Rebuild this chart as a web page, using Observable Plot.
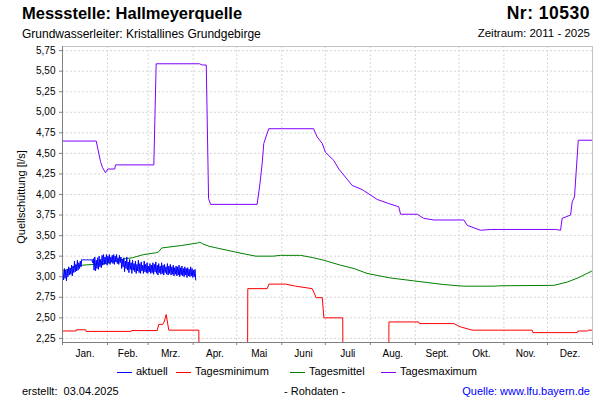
<!DOCTYPE html>
<html><head><meta charset="utf-8">
<script src="https://cdn.jsdelivr.net/npm/d3@7"></script>
<script src="https://cdn.jsdelivr.net/npm/@observablehq/plot@0.6"></script>
<style>
body{margin:0;background:#fff;font-family:"Liberation Sans",Arial,sans-serif;color:#000;}
#wrap{position:relative;width:600px;height:400px;overflow:hidden;background:#fff;}
.t{position:absolute;white-space:pre;line-height:1;}
.sw{position:absolute;height:1px;width:15px;}
#chart{position:absolute;left:0;top:0;}
</style></head><body>
<div id="wrap">
<div class="t" style="left:22px;top:5px;font-size:16.5px;font-weight:bold">Messstelle: Hallmeyerquelle</div>
<div class="t" style="right:10px;top:5px;font-size:17.5px;font-weight:bold;letter-spacing:0.5px">Nr: 10530</div>
<div class="t" style="left:22px;top:28px;font-size:12px">Grundwasserleiter: Kristallines Grundgebirge</div>
<div class="t" style="right:10px;top:28px;font-size:11.5px">Zeitraum: 2011 - 2025</div>
<div class="t" style="left:21px;top:197px;font-size:11px;transform:translate(-50%,-50%) rotate(-90deg);">Quellschüttung [l/s]</div>
<div id="chart"></div>
<div id="legend"></div>
<div class="t" style="left:22px;top:386px;font-size:11px">erstellt:  03.04.2025</div>
<div class="t" style="left:284px;top:386px;font-size:11px">- Rohdaten -</div>
<div class="t" style="right:10px;top:386px;font-size:11px;color:#0000ff">Quelle: www.lfu.bayern.de</div>
</div>
<script>
// Monatsgrenzen (Tag im Jahr) und Beschriftungen
const monatsStart = [0,31,59,90,120,151,181,212,243,273,304,334,365];
const monatsNamen = ["Jan.","Feb.","Mrz.","Apr.","Mai","Juni","Juli","Aug.","Sept.","Okt.","Nov.","Dez."];
const yTicks = [2.25,2.5,2.75,3.0,3.25,3.5,3.75,4.0,4.25,4.5,4.75,5.0,5.25,5.5,5.75];

// Tagesmaximum (Tag, Wert)
const maxTag = [0,23.2,26.2,27.5,29.6,31.2,36,36.5,62.9,64.5,94.3,96.2,99,100.6,102,134,135.7,137.5,138.6,142,172.9,175.4,178.9,181,186.8,190.3,192.6,199.5,206.4,216.7,224.7,231.6,232.8,244.3,248.8,255.7,276.4,278.7,287.9,294.8,339.5,343,344.1,349.9,351,352.6,355.2,365];
const maxWert = [4.65,4.65,4.40,4.33,4.265,4.31,4.31,4.36,4.36,5.59,5.59,5.575,5.575,3.95,3.88,3.88,4.09,4.375,4.62,4.80,4.80,4.70,4.62,4.515,4.415,4.31,4.26,4.11,4.06,3.94,3.89,3.85,3.76,3.76,3.71,3.69,3.69,3.625,3.565,3.575,3.575,3.565,3.71,3.75,3.91,3.97,4.66,4.66];

// Tagesmittel
const mittelTag = [0,5.3,9.4,13.5,21.4,30.5,34,43.5,48,56,64,66,68.4,82,93,94.6,96.5,101,119,133,145,150,164,173,180,191.5,200.7,209.8,225.8,241.8,262.5,276.4,297,302,338.4,347.6,355.6,364.2,365];
const mittelWert = [3.07,3.10,3.13,3.14,3.15,3.16,3.18,3.22,3.23,3.27,3.29,3.30,3.35,3.38,3.41,3.42,3.40,3.37,3.30,3.25,3.25,3.26,3.26,3.23,3.20,3.14,3.10,3.04,2.985,2.95,2.905,2.885,2.885,2.89,2.895,2.935,2.99,3.066,3.07];

// Tagesminimum (Werte unter 2,2 liegen außerhalb des Diagramms)
const minTag = [0,9.4,9.6,16,16.3,47.3,47.5,65.2,66.3,69,70,71.4,73.2,93.9,94,127.4,127.6,141,142.1,153.6,160.5,172,174.7,178.9,180,193,193.2,224.7,224.8,245.4,245.8,269.5,274.1,282.2,323.5,324,354.5,355,361.4,362,365];
const minWert = [2.34,2.34,2.355,2.355,2.335,2.335,2.345,2.345,2.42,2.42,2.45,2.54,2.35,2.35,1.5,1.5,2.855,2.855,2.91,2.91,2.885,2.855,2.745,2.745,2.50,2.50,1.5,1.5,2.45,2.45,2.43,2.43,2.39,2.35,2.35,2.32,2.32,2.34,2.34,2.35,2.35];

// aktuell 2025: tägliche Schwankungsbreite (hoch / tief), ab 1. Januar
const aktuellHoch = [3.06,3.10,3.08,3.09,3.12,3.10,3.14,3.13,3.19,3.15,3.20,3.17,3.19,3.21,3.21,3.21,3.21,3.21,3.21,3.21,3.21,3.22,3.24,3.20,3.23,3.25,3.21,3.26,3.27,3.24,3.27,3.25,3.27,3.24,3.26,3.27,3.25,3.27,3.23,3.26,3.24,3.21,3.23,3.19,3.24,3.18,3.21,3.17,3.20,3.16,3.19,3.15,3.20,3.16,3.18,3.14,3.19,3.15,3.17,3.13,3.16,3.14,3.17,3.15,3.18,3.14,3.16,3.13,3.17,3.14,3.15,3.12,3.16,3.13,3.15,3.12,3.14,3.11,3.13,3.12,3.14,3.11,3.13,3.10,3.12,3.10,3.11,3.09,3.12,3.10,3.08,3.09];
const aktuellTief = [2.96,2.98,2.95,3.00,3.02,3.03,3.01,3.05,3.06,3.07,3.08,3.10,3.12,3.20,3.20,3.20,3.20,3.20,3.20,3.20,3.17,3.08,3.07,3.10,3.09,3.12,3.11,3.14,3.15,3.16,3.14,3.17,3.15,3.18,3.16,3.15,3.18,3.16,3.15,3.17,3.10,3.12,3.06,3.10,3.08,3.05,3.09,3.04,3.08,3.06,3.04,3.07,3.05,3.04,3.07,3.04,3.06,3.05,3.04,3.06,3.04,3.05,3.03,3.06,3.04,3.02,3.05,3.03,3.04,3.02,3.05,3.03,3.02,3.04,3.02,3.03,3.01,3.03,3.01,3.02,3.00,3.02,3.01,3.00,3.02,2.99,3.01,3.00,3.01,2.99,3.00,2.96];

const aktuell = [];
aktuellHoch.forEach((h, i) => {
  aktuell.push({x: i + 0.25, y: h});
  aktuell.push({x: i + 0.75, y: aktuellTief[i]});
});
const toPts = (xs, ys) => xs.map((x, i) => ({x, y: ys[i]}));
const monatsMitte = monatsNamen.map((_, i) => (monatsStart[i] + monatsStart[i+1]) / 2);

const farben = {aktuell:"#0000ff", min:"#ff0000", mittel:"#008000", max:"#8000ff"};

const chart = Plot.plot({
  width: 600, height: 360,
  marginLeft: 62, marginRight: 8, marginTop: 46, marginBottom: 18,
  x: {domain: [0, 365]},
  y: {domain: [2.2, 5.8]},
  style: {fontFamily: "Liberation Sans, Arial, sans-serif", fontSize: "10px", background: "transparent"},
  marks: [
    Plot.gridY(yTicks, {stroke: "#d6d6d6", strokeOpacity: 1, strokeDasharray: "2,2"}),
    Plot.gridX(monatsStart.slice(1, -1), {stroke: "#d6d6d6", strokeOpacity: 1, strokeDasharray: "2,2"}),
    Plot.ruleY([5.8], {stroke: "#c4c4c4"}),
    Plot.ruleX([365], {stroke: "#c4c4c4"}),
    Plot.line(toPts(minTag, minWert), {x: "x", y: "y", stroke: farben.min, strokeWidth: 1, clip: true}),
    Plot.line(toPts(mittelTag, mittelWert), {x: "x", y: "y", stroke: farben.mittel, strokeWidth: 1, clip: true}),
    Plot.line(toPts(maxTag, maxWert), {x: "x", y: "y", stroke: farben.max, strokeWidth: 1, clip: true}),
    Plot.line(aktuell, {x: "x", y: "y", stroke: farben.aktuell, strokeWidth: 1, clip: true}),
    Plot.axisY(yTicks, {tickSize: 3, tickPadding: 4, stroke: "#808080", tickFormat: d => d.toFixed(2).replace(".", ","), label: null}),
    Plot.axisX(monatsStart, {tickSize: 3, stroke: "#808080", tickFormat: () => "", label: null}),
    Plot.axisX(monatsMitte, {tickSize: 0, tickPadding: 7, tickFormat: d => monatsNamen[monatsMitte.indexOf(d)], label: null}),
    Plot.ruleX([0], {stroke: "#808080"}),
    Plot.ruleY([2.2], {stroke: "#808080"})
  ]
});
document.getElementById("chart").appendChild(chart);

// Legende
const legende = [
  {name: "aktuell", farbe: farben.aktuell, x: 117},
  {name: "Tagesminimum", farbe: farben.min, x: 176},
  {name: "Tagesmittel", farbe: farben.mittel, x: 290},
  {name: "Tagesmaximum", farbe: farben.max, x: 381}
];
const lg = d3.select("#legend");
legende.forEach(l => {
  lg.append("div").attr("class", "sw").style("left", l.x + "px").style("top", "372px").style("background", l.farbe);
  lg.append("div").attr("class", "t").style("left", (l.x + 19) + "px").style("top", "366px").style("font-size", "11px").text(l.name);
});
</script>
</body></html>
